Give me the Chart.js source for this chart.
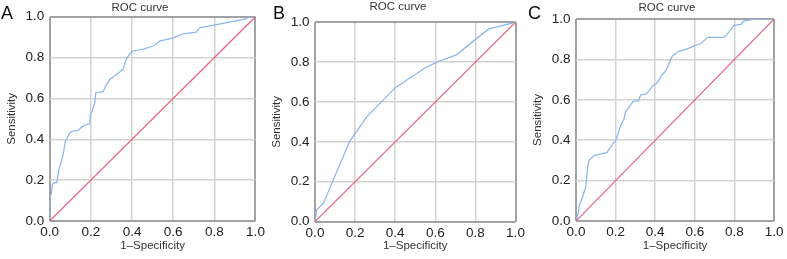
<!DOCTYPE html>
<html>
<head>
<meta charset="utf-8">
<script src="https://cdn.jsdelivr.net/npm/chart.js@4.4.1/dist/chart.umd.min.js"></script>
<style>
  html, body { margin: 0; padding: 0; background: #fff; }
  #quadro { position: relative; width: 787px; height: 259px; }
  #quadro canvas { position: absolute; left: 0; top: 0; }
</style>
</head>
<body>
<div id="quadro">
  <canvas id="graficoA" width="787" height="259"></canvas>
  <canvas id="graficoB" width="787" height="259"></canvas>
  <canvas id="graficoC" width="787" height="259"></canvas>
</div>
<script>
// valores
const ticksValores = [0, 0.2, 0.4, 0.6, 0.8, 1];
const diagonal = [0, 1];

const fprA = [0, 0, 0.008, 0.013, 0.034, 0.039, 0.045, 0.055, 0.066, 0.077, 0.084, 0.098, 0.11, 0.139, 0.152, 0.168, 0.195, 0.197, 0.206, 0.219, 0.224, 0.26, 0.276, 0.292, 0.324, 0.356, 0.368, 0.381, 0.4, 0.461, 0.51, 0.534, 0.6, 0.647, 0.712, 0.728, 0.792, 0.873, 0.954, 0.97, 1];
const tprA = [0, 0.124, 0.13, 0.18, 0.19, 0.213, 0.254, 0.286, 0.327, 0.395, 0.405, 0.432, 0.44, 0.444, 0.457, 0.468, 0.476, 0.52, 0.538, 0.579, 0.628, 0.633, 0.668, 0.693, 0.717, 0.741, 0.782, 0.807, 0.831, 0.842, 0.86, 0.88, 0.896, 0.916, 0.924, 0.945, 0.957, 0.973, 0.989, 1.0, 1];

const fprB = [0, 0.008, 0.042, 0.172, 0.258, 0.4, 0.55, 0.608, 0.708, 0.792, 0.867, 1];
const tprB = [0, 0.058, 0.092, 0.4, 0.525, 0.672, 0.772, 0.8, 0.838, 0.908, 0.967, 1];

const fprC = [0, 0.005, 0.013, 0.016, 0.026, 0.038, 0.049, 0.059, 0.065, 0.078, 0.092, 0.127, 0.157, 0.173, 0.193, 0.2, 0.212, 0.225, 0.242, 0.25, 0.261, 0.288, 0.315, 0.327, 0.353, 0.373, 0.386, 0.402, 0.418, 0.43, 0.446, 0.462, 0.475, 0.487, 0.518, 0.559, 0.6, 0.632, 0.665, 0.747, 0.771, 0.796, 0.837, 0.845, 0.902, 1];
const tprC = [0, 0.02, 0.044, 0.077, 0.1, 0.135, 0.168, 0.266, 0.3, 0.31, 0.324, 0.332, 0.34, 0.365, 0.39, 0.398, 0.43, 0.472, 0.505, 0.538, 0.554, 0.592, 0.595, 0.625, 0.628, 0.648, 0.669, 0.678, 0.694, 0.719, 0.735, 0.76, 0.793, 0.817, 0.84, 0.851, 0.868, 0.88, 0.909, 0.909, 0.934, 0.967, 0.975, 0.99, 1.0, 1];

const fonte = '"Liberation Sans", Arial, sans-serif';

function montaPontos(xs, ys){
    return xs.map((x, i) => ({x: x, y: ys[i]}));
};

function corGrade(ctx){
    if (ctx.tick && (ctx.tick.value === 0 || ctx.tick.value === 1)) return '#a2a2a2';
    return '#d3d3d3';
};

function larguraGrade(ctx){
    if (ctx.tick && (ctx.tick.value === 0 || ctx.tick.value === 1)) return 2;
    return 1.5;
};

// letra do painel e titulo "ROC curve"
const rotulos = {
    id: 'rotulos',
    afterDraw(chart, args, opts){
        const ctx = chart.ctx;
        ctx.save();
        ctx.fillStyle = '#333';
        ctx.font = '11.5px ' + fonte;
        ctx.textAlign = 'center';
        ctx.textBaseline = 'middle';
        ctx.fillText('ROC curve', opts.tituloX, opts.tituloY);
        ctx.fillStyle = '#111';
        ctx.font = '18px ' + fonte;
        ctx.textAlign = 'left';
        ctx.textBaseline = 'alphabetic';
        ctx.fillText(opts.letra, opts.letraX, 18.5);
        ctx.restore();
    }
};

function criaGrafico(id, letra, fpr, tpr, area, titulo){
    const canvas = document.getElementById(id);
    return new Chart(canvas, {
        type: 'scatter',
        data: {
            datasets: [{
                data: montaPontos(diagonal, diagonal),
                showLine: true,
                borderColor: '#e8637f',
                borderWidth: 1.2,
                pointRadius: 0
            }, {
                data: montaPontos(fpr, tpr),
                showLine: true,
                borderColor: '#8db8ec',
                borderWidth: 1.3,
                pointRadius: 0
            }]
        },
        options: {
            responsive: false,
            animation: false,
            layout: {
                autoPadding: false,
                padding: {
                    left: area.left - 49,
                    right: 787 - area.right,
                    top: area.top,
                    bottom: 259 - area.bottom - 37
                }
            },
            plugins: {
                legend: {display: false},
                tooltip: {enabled: false},
                rotulos: {letra: letra, letraX: titulo.letraX, tituloX: titulo.x, tituloY: titulo.y}
            },
            scales: {
                x: {
                    type: 'linear',
                    min: 0,
                    max: 1,
                    afterBuildTicks: s => { s.ticks = ticksValores.map(v => ({value: v})); },
                    afterFit: s => { s.height = 37; },
                    border: {display: false},
                    grid: {color: corGrade, lineWidth: larguraGrade, drawTicks: false},
                    ticks: {
                        padding: 3.5,
                        color: '#222',
                        font: {family: fonte, size: 13.5},
                        maxRotation: 0,
                        callback: v => v.toFixed(1)
                    },
                    title: {
                        display: true,
                        text: '1\u2013Specificity',
                        color: '#333',
                        font: {family: fonte, size: 11.5},
                        padding: {top: 0, bottom: area.bottom - 215.8}
                    }
                },
                y: {
                    type: 'linear',
                    min: 0,
                    max: 1,
                    afterBuildTicks: s => { s.ticks = ticksValores.map(v => ({value: v})); },
                    afterFit: s => { s.width = 49; },
                    border: {display: false},
                    grid: {color: corGrade, lineWidth: larguraGrade, drawTicks: false},
                    ticks: {
                        padding: 5.5,
                        color: '#222',
                        font: {family: fonte, size: 13.5},
                        callback: v => v.toFixed(1)
                    },
                    title: {
                        display: true,
                        text: 'Sensitivity',
                        color: '#333',
                        font: {family: fonte, size: 11.5},
                        padding: {top: 4, bottom: 0}
                    }
                }
            }
        },
        plugins: [rotulos]
    });
};

//PAINEL A
criaGrafico('graficoA', 'A', fprA, tprA, {left: 49.7, right: 255.5, top: 16.7, bottom: 221}, {x: 140, y: 8, letraX: 1});

//PAINEL B
criaGrafico('graficoB', 'B', fprB, tprB, {left: 315, right: 515.5, top: 22.3, bottom: 221.5}, {x: 398, y: 7, letraX: 273});

//PAINEL C
criaGrafico('graficoC', 'C', fprC, tprC, {left: 576, right: 780, top: 19, bottom: 221}, {x: 667, y: 7.5, letraX: 528});
</script>
</body>
</html>
